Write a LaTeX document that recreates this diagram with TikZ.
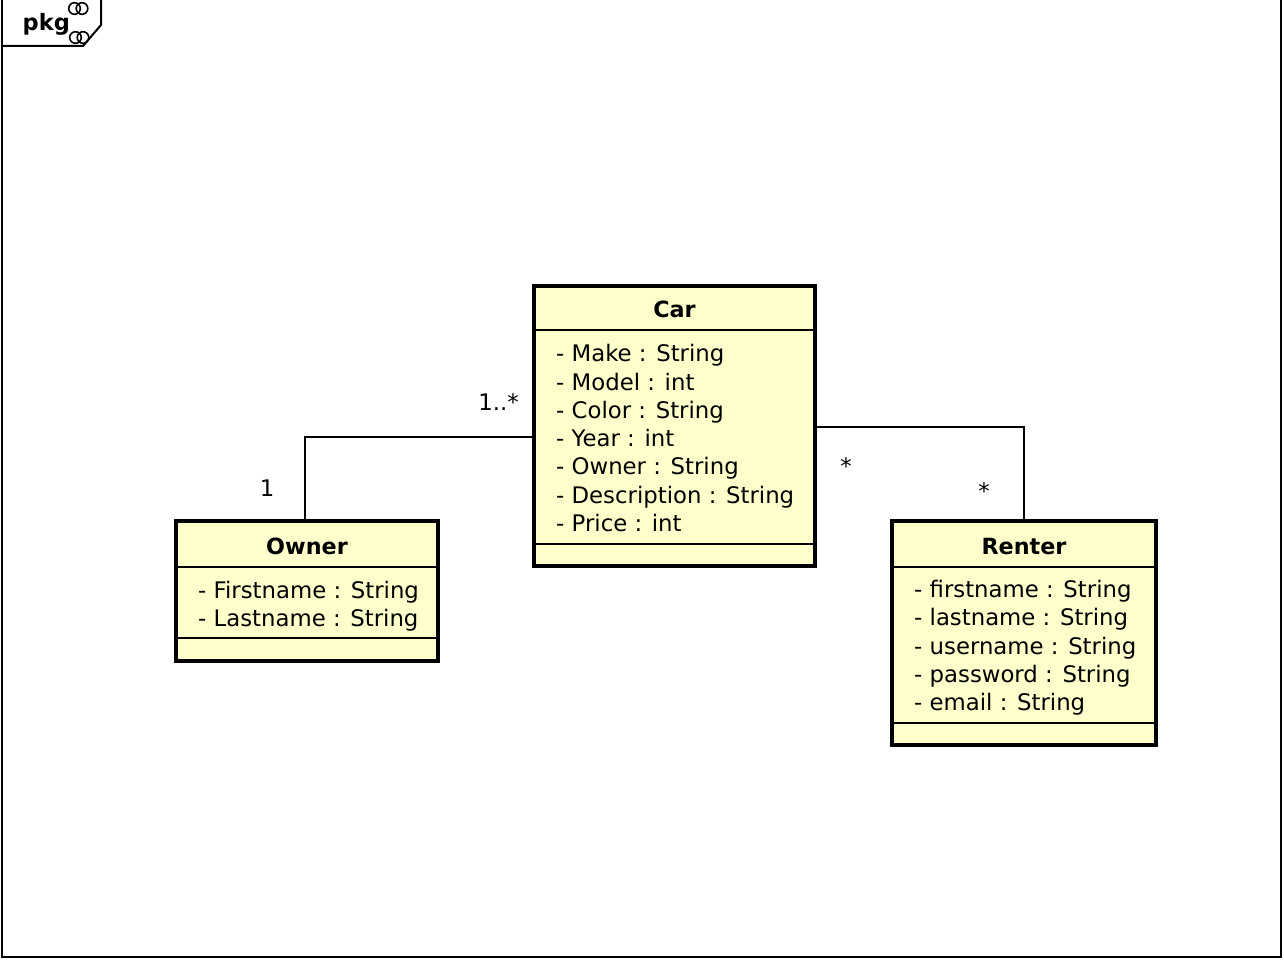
\documentclass[tikz,border=0pt]{standalone}
\usepackage{fontspec}
\setmainfont{DejaVu Sans}
\begin{document}
\begin{tikzpicture}[x=1pt,y=-1pt,
  classbox/.style={draw=black, line width=3.6pt, fill=umlfill, inner sep=0pt},
  divider/.style={line width=1.5pt},
  conn/.style={line width=1.5pt},
  attr/.style={anchor=base west, inner sep=0pt, font=\fontsize{22.8}{27}\selectfont},
  ttl/.style={anchor=base, inner sep=0pt, font=\fontsize{22.3}{27}\selectfont\bfseries},
  mult/.style={anchor=base, inner sep=0pt, font=\fontsize{22.8}{27}\selectfont}]
\definecolor{umlfill}{HTML}{FFFFCC}
\useasboundingbox (0,0) rectangle (1284,960);
% frame
\draw[line width=2pt] (2,-2) -- (2,957) -- (1281,957) -- (1281,-2);
\draw[line width=2pt] (101,-2) -- (101,25) -- (83,46) -- (2,46);
\node[anchor=base west, inner sep=0pt, font=\fontsize{22.5}{27}\selectfont\bfseries] (pkg) at (22.5,31) {pkg};
\draw[line width=1.6pt] (74.5,8.5) circle (5.8) (82,8.5) circle (5.8);
\draw[line width=1.6pt] (75.5,37.5) circle (5.8) (83,37.5) circle (5.8);
% Car
\node[classbox, minimum width=281pt, minimum height=280pt] (car) at (674.5,426) {};
\draw[divider] (car.west |- 0,330) -- (car.east |- 0,330);
\draw[divider] (car.west |- 0,544) -- (car.east |- 0,544);
\node[ttl] (cart) at (674.5,317) {Car};
\node[attr] (c1) at (556,361.7) {- Make : String};
\node[attr] (c2) at (556,390) {- Model : int};
\node[attr] (c3) at (556,418.3) {- Color : String};
\node[attr] (c4) at (556,446.6) {- Year : int};
\node[attr] (c5) at (556,474.9) {- Owner : String};
\node[attr] (c6) at (556,503.2) {- Description : String};
\node[attr] (c7) at (556,531.5) {- Price : int};
% Owner
\node[classbox, minimum width=262pt, minimum height=140pt] (owner) at (307,591) {};
\draw[divider] (owner.west |- 0,567) -- (owner.east |- 0,567);
\draw[divider] (owner.west |- 0,638) -- (owner.east |- 0,638);
\node[ttl] (ownert) at (307,554) {Owner};
\node[attr] (o1) at (198,598) {- Firstname : String};
\node[attr] (o2) at (198,626.5) {- Lastname : String};
% Renter
\node[classbox, minimum width=264pt, minimum height=224pt] (renter) at (1024,633) {};
\draw[divider] (renter.west |- 0,567) -- (renter.east |- 0,567);
\draw[divider] (renter.west |- 0,723) -- (renter.east |- 0,723);
\node[ttl] (rentert) at (1024,554) {Renter};
\node[attr] (r1) at (914,597.5) {- firstname : String};
\node[attr] (r2) at (914,625.8) {- lastname : String};
\node[attr] (r3) at (914,654.1) {- username : String};
\node[attr] (r4) at (914,682.4) {- password : String};
\node[attr] (r5) at (914,710.7) {- email : String};
% connectors
\coordinate (oc) at (305,437);
\draw[conn] (owner.north -| oc) -- (oc) -- (oc -| car.west);
\coordinate (rc) at (1024,427);
\draw[conn] (car.east |- rc) -- (rc) -- (rc |- renter.north);
% multiplicities
\node[mult] (m1) at (267,496.5) {1};
\node[mult] (m2) at (498.5,410.5) {1..*};
\node[mult] (m3) at (846,474) {*};
\node[mult] (m4) at (984,499) {*};
\end{tikzpicture}
\end{document}
